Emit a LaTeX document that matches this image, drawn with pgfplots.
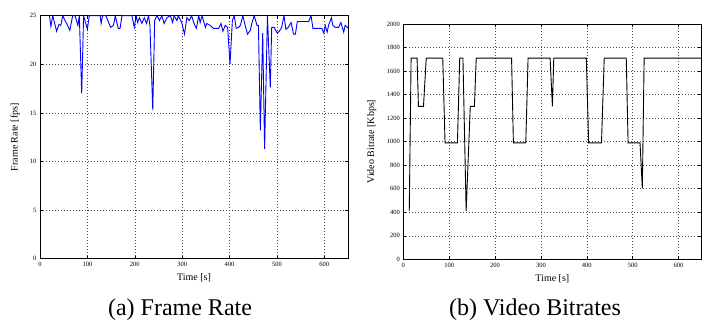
\documentclass[border=0pt]{standalone}
\usepackage{pgfplots}
\pgfplotsset{compat=1.18}
\usepackage{fontspec}
\setmainfont{Liberation Serif}
\pgfplotsset{
  mat/.style={
    scale only axis, anchor=south west,
    xmin=0, xmax=650,
    xtick={0,100,200,300,400,500,600},
    tick align=inside, tick pos=both,
    major tick length=3pt,
    grid=major,
    major grid style={black!70, line width=0.5pt, dash pattern=on 0.6pt off 2.4pt},
    axis line style={line width=0.9pt},
    tick style={black, line width=0.5pt},
    ticklabel style={font=\fontsize{6.5}{7.5}\selectfont},
    label style={font=\fontsize{7}{8}\selectfont},
    /pgf/number format/assume math mode=true,
    /pgf/number format/1000 sep={},
    scaled ticks=false,
    xlabel={Time [s]},
    every axis x label/.style={at={(axis description cs:0.5,0)}, anchor=center, yshift=-19pt},
  }
}
\begin{document}
\begin{tikzpicture}[x=1pt,y=1pt]
\path[use as bounding box] (0,0) rectangle (702,320);
\begin{axis}[mat, at={(40pt,61.3pt)}, width=308pt, height=243pt,
  ymin=0, ymax=25, ytick={0,5,10,15,20,25},
  ylabel={Frame Rate [fps]},
  every axis y label/.style={at={(axis description cs:-0.081,0.5)}, rotate=90, anchor=center}]
\addplot[blue, line width=0.9pt] coordinates {
(20,25)(23,23.9)(27,25)(35,23.4)(40,24.1)(44,24)(48,25)(63,23.5)(69,25)(74,25)(80,24)(83,25)(88,17)(92,25)(100,23.6)(104,25)(127,25)(129,24.2)(132,25)(139,25)(149,23.8)(155,24)(159,25)(165,23.7)(169,23.7)(173,25)(194,25)(199,23.8)(203,25)(206,24.3)(210,24.8)(215,24.2)(220,24.8)(225,24.2)(229,25)(232,24)(238,15.3)(242,24.5)(247,25)(252,24.5)(257,25)(262,24.2)(268,24.8)(275,25)(280,24.3)(283,25)(289,24.5)(292,25)(299,24.3)(305,23.1)(310,24.8)(315,24.5)(320,25)(325,24.2)(330,23.7)(335,25)(338,24.3)(342,25)(349,23.8)(352,24.2)(359,24)(366,23.7)(377,23.7)(382,24.2)(386,23.4)(391,24)(396,23.8)(401,20)(406,24.5)(410,25)(414,23.7)(419,23.8)(423,24)(428,25)(433,24)(438,23.1)(444,23.5)(447,24.2)(452,25)(458,24)(461,24)(465,13.2)(470,23.2)(474,11.3)(480,25)(486,17.6)(489,23.8)(494,23.8)(501,23.2)(505,23.4)(510,23.8)(515,25)(519,23.6)(524,23.8)(530,24.3)(535,23.1)(539,23.1)(543,24.4)(553,24.4)(567,24.4)(572,25)(576,23.7)(595,23.7)(599,23.2)(602,24)(606,23.3)(609,24)(615,24.8)(618,24)(623,23.8)(630,23.8)(635,24.3)(641,23.3)(644,24)(651,23.7)
};
\end{axis}
\begin{axis}[mat, at={(403.3pt,60.7pt)}, width=298.2pt, height=235.3pt,
  ymin=0, ymax=2000, ytick={0,200,400,600,800,1000,1200,1400,1600,1800,2000},
  ylabel={Video Bitrate [Kbps]},
  every axis y label/.style={at={(axis description cs:-0.106,0.5)}, rotate=90, anchor=center}]
\addplot[black, line width=0.9pt] coordinates {
(13,410)(17,1710)(30,1710)(33,1300)(44,1300)(50,1710)(86,1710)(91,990)(118,990)(123,1710)(130,1710)(137,410)(146,1300)(155,1300)(159,1710)(236,1710)(240,990)(267,990)(272,1710)(320,1710)(325,1300)(328,1710)(399,1710)(404,990)(432,990)(438,1710)(486,1710)(490,990)(516,990)(521,605)(525,1710)(650,1710)
};
\end{axis}
\node[font=\fontsize{24}{28}\selectfont, anchor=base] at (180,4) {(a) Frame Rate};
\node[font=\fontsize{24}{28}\selectfont, anchor=base] at (535,4) {(b) Video Bitrates};
\end{tikzpicture}
\end{document}
